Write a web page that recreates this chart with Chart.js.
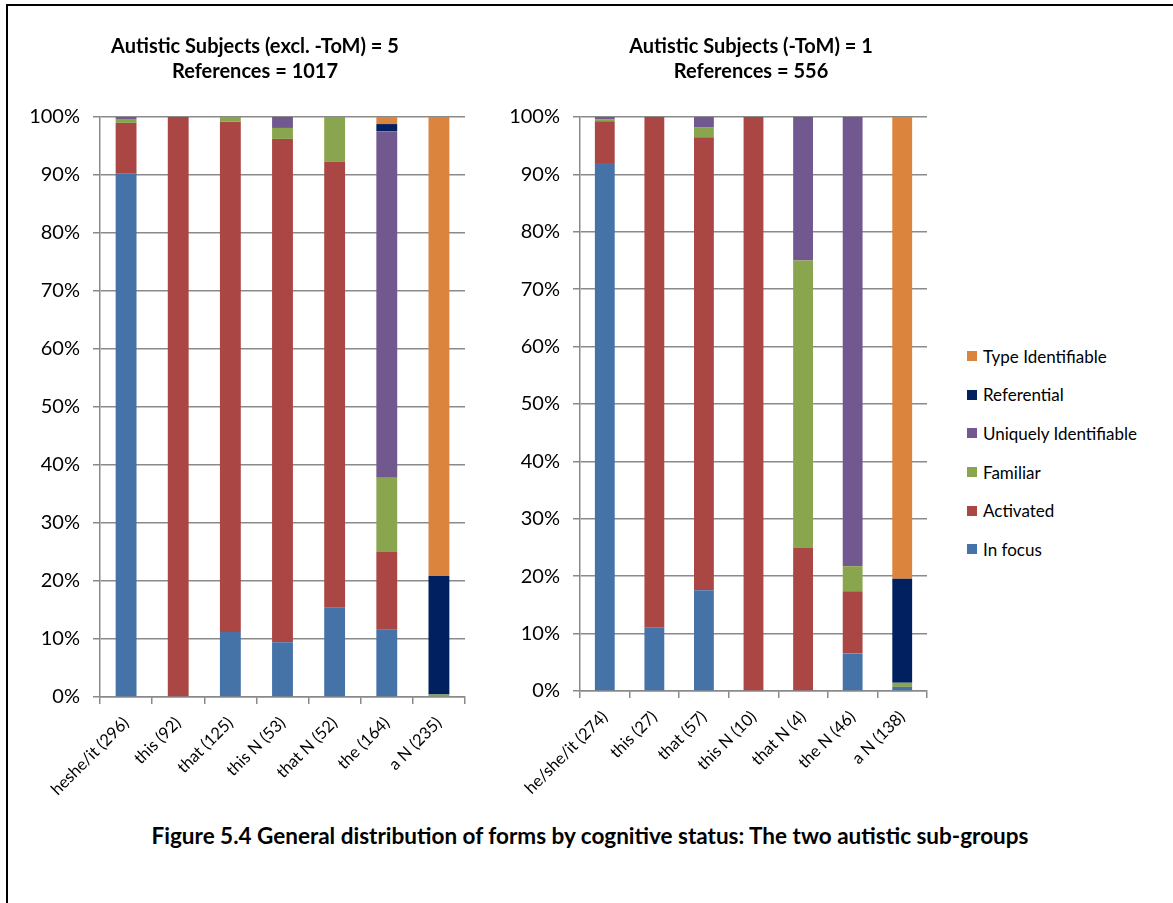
<!DOCTYPE html>
<html>
<head>
<meta charset="utf-8">
<script src="https://cdn.jsdelivr.net/npm/chart.js@4.4.1/dist/chart.umd.min.js"></script>
<style>
  html, body { margin: 0; padding: 0; background: #fff; }
  #page { position: relative; width: 1173px; height: 903px; overflow: hidden; font-family: Lato, "Liberation Sans", sans-serif; }
  .frame-top { position: absolute; left: 6px; top: 4px; width: 1167px; height: 2px; background: #000; }
  .frame-left { position: absolute; left: 6px; top: 4px; width: 2px; height: 899px; background: #000; }
  canvas { position: absolute; top: 0; }
  #legend { position: absolute; left: 967px; top: 337px; }
  .item { position: relative; height: 38.6px; display: flex; align-items: center; font-size: 17px; color: #000; }
  .swatch { width: 10px; height: 10px; margin-right: 6px; }
  #caption { position: absolute; left: 0; width: 1180px; top: 822px; text-align: center; font-weight: bold; font-size: 22.5px; color: #000; }
</style>
</head>
<body>
<div id="page">
  <div class="frame-top"></div>
  <div class="frame-left"></div>
  <canvas id="left" width="450" height="815" style="left:20px;width:450px;height:815px"></canvas>
  <canvas id="right" width="432" height="815" style="left:500px;width:432px;height:815px"></canvas>
  <div id="legend"></div>
  <div id="caption">Figure 5.4 General distribution of forms by cognitive status: The two autistic sub-groups</div>
</div>
<script>
// Cognitive statuses, bottom of the stack first
const statuses = ['In focus', 'Activated', 'Familiar', 'Uniquely Identifiable', 'Referential', 'Type Identifiable'];
const statusColors = ['#4572A7', '#AA4643', '#89A54E', '#71588F', '#002060', '#DB843D'];
const percentTicks = [0, 10, 20, 30, 40, 50, 60, 70, 80, 90, 100];

// Group 1: autistic subjects excluding -ToM (percent of each form)
const leftTitle = ['Autistic Subjects (excl. -ToM) = 5', 'References = 1017'];
const leftForms = ['heshe/it (296)', 'this (92)', 'that (125)', 'this N (53)', 'that N (52)', 'the (164)', 'a N (235)'];
const leftInFocus     = [90.20, 0,   11.20,  9.43, 15.38, 11.59,  0];
const leftActivated   = [ 8.78, 100, 88.00, 86.79, 76.92, 13.41,  0];
const leftFamiliar    = [ 0.68, 0,    0.80,  1.89,  7.69, 12.80,  0.43];
const leftUnique      = [ 0.34, 0,    0,     1.89,  0,    59.76,  0];
const leftReferential = [ 0,    0,    0,     0,     0,     1.22, 20.43];
const leftTypeId      = [ 0,    0,    0,     0,     0,     1.22, 79.15];

// Group 2: autistic subject with -ToM
const rightTitle = ['Autistic Subjects (-ToM) = 1', 'References = 556'];
const rightForms = ['he/she/it (274)', 'this (27)', 'that (57)', 'this N (10)', 'that N (4)', 'the N (46)', 'a N (138)'];
const rightInFocus     = [91.97, 11.11, 17.54, 0,   0,   6.52,  0.72];
const rightActivated   = [ 7.30, 88.89, 78.95, 100, 25, 10.87,  0];
const rightFamiliar    = [ 0.36, 0,      1.75, 0,   50,  4.35,  0.72];
const rightUnique      = [ 0.36, 0,      1.75, 0,   25, 78.26,  0];
const rightReferential = [ 0,    0,      0,    0,   0,   0,    18.12];
const rightTypeId      = [ 0,    0,      0,    0,   0,   0,    80.43];

const axisGray = '#8a8a8a';
const fontFamily = 'Lato, "Liberation Sans", sans-serif';

// Centre the two-line title on a chosen x instead of the full canvas width
const titleCenter = {
  id: 'titleCenter',
  afterLayout(chart, args, opts) {
    const t = chart.titleBlock;
    if (!t || opts.x == null) return;
    const half = (t.right - t.left) / 2;
    t.left = opts.x - half;
    t.right = opts.x + half;
  }
};

function buildDatasets(series) {
  return statuses.map((name, i) => ({
    label: name,
    data: series[i],
    backgroundColor: statusColors[i],
    borderWidth: 0,
    barPercentage: 0.4,
    categoryPercentage: 1.0
  }));
}

function makeChart(id, title, forms, series, geom) {
  return new Chart(document.getElementById(id), {
    type: 'bar',
    data: { labels: forms, datasets: buildDatasets(series) },
    plugins: [titleCenter],
    options: {
      responsive: false,
      animation: false,
      layout: { padding: { left: 0, right: geom.padRight, top: 0, bottom: 0 } },
      plugins: {
        legend: { display: false },
        tooltip: { enabled: false },
        titleCenter: { x: geom.titleX },
        title: {
          display: true,
          text: title,
          color: '#000',
          font: { family: fontFamily, size: 20, weight: 'bold', lineHeight: 1.25 },
          padding: { top: 34, bottom: 33 }
        }
      },
      scales: {
        x: {
          stacked: true,
          offset: true,
          grid: { drawOnChartArea: false, drawTicks: true, tickLength: 7, color: axisGray, lineWidth: 1.5, offset: true },
          border: { color: axisGray, width: 1.5 },
          ticks: {
            autoSkip: false,
            minRotation: 45,
            maxRotation: 45,
            padding: 9,
            color: '#000',
            font: { family: fontFamily, size: 16.5 }
          },
          afterFit: (scale) => { scale.height = geom.xHeight; }
        },
        y: {
          stacked: true,
          min: 0,
          max: 100,
          afterBuildTicks: (scale) => { scale.ticks = percentTicks.map(v => ({ value: v })); },
          grid: { color: axisGray, lineWidth: 1.5, tickLength: 7 },
          border: { color: axisGray, width: 1.5 },
          ticks: {
            padding: 13,
            color: '#000',
            font: { family: fontFamily, size: 20 },
            callback: (v) => v + '%'
          },
          afterFit: (scale) => { scale.width = geom.yWidth; }
        }
      }
    }
  });
}

makeChart('left', leftTitle, leftForms,
  [leftInFocus, leftActivated, leftFamiliar, leftUnique, leftReferential, leftTypeId],
  { padRight: 5, yWidth: 80, xHeight: 118, titleX: 235 });

makeChart('right', rightTitle, rightForms,
  [rightInFocus, rightActivated, rightFamiliar, rightUnique, rightReferential, rightTypeId],
  { padRight: 5, yWidth: 80, xHeight: 124, titleX: 251 });

// Legend, top entry is the top of the stack
const legend = document.getElementById('legend');
for (let i = statuses.length - 1; i >= 0; i--) {
  const row = document.createElement('div');
  row.className = 'item';
  const sw = document.createElement('span');
  sw.className = 'swatch';
  sw.style.background = statusColors[i];
  const txt = document.createElement('span');
  txt.textContent = statuses[i];
  row.appendChild(sw);
  row.appendChild(txt);
  legend.appendChild(row);
}
</script>
</body>
</html>
